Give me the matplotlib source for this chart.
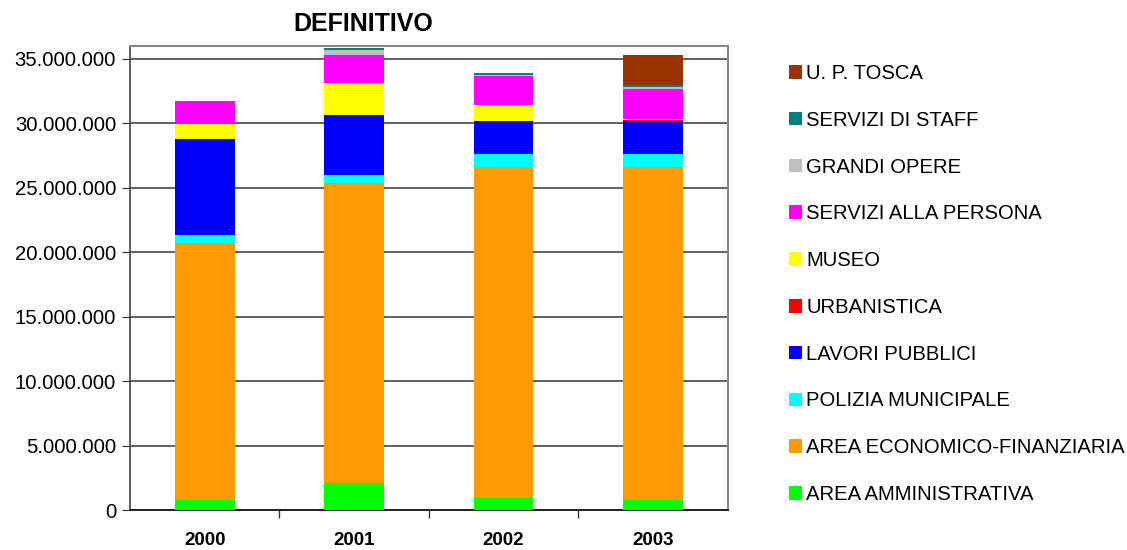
import numpy as np
import matplotlib
matplotlib.use('Agg')
import matplotlib.pyplot as plt
from matplotlib.patches import Patch
from matplotlib.ticker import FuncFormatter

plt.rcParams['font.family'] = ['Liberation Sans', 'DejaVu Sans']

years = ['2000', '2001', '2002', '2003']

# values in millions of euro, bottom to top
area_amministrativa = [0.78, 2.07, 0.95, 0.78]
area_economico = [19.94, 23.25, 25.61, 25.84]
polizia_municipale = [0.62, 0.68, 1.06, 1.01]
lavori_pubblici = [7.45, 4.66, 2.56, 2.56]
urbanistica = [0.0, 0.0, 0.0, 0.08]
museo = [1.16, 2.48, 1.24, 0.08]
servizi_persona = [1.78, 2.17, 2.25, 2.27]
grandi_opere = [0.0, 0.39, 0.02, 0.155]
servizi_staff = [0.0, 0.16, 0.155, 0.155]
up_tosca = [0.0, 0.0, 0.0, 2.38]

series = [
  ('AREA AMMINISTRATIVA', area_amministrativa, '#00FF00'),
  ('AREA ECONOMICO-FINANZIARIA', area_economico, '#FF9900'),
  ('POLIZIA MUNICIPALE', polizia_municipale, '#00FFFF'),
  ('LAVORI PUBBLICI', lavori_pubblici, '#0000FF'),
  ('URBANISTICA', urbanistica, '#FF0000'),
  ('MUSEO', museo, '#FFFF00'),
  ('SERVIZI ALLA PERSONA', servizi_persona, '#FF00FF'),
  ('GRANDI OPERE', grandi_opere, '#C0C0C0'),
  ('SERVIZI DI STAFF', servizi_staff, '#008080'),
  ('U. P. TOSCA', up_tosca, '#993300'),
]

fig = plt.figure(figsize=(11.27, 5.5), dpi=100)
ax = fig.add_axes([130/1127, 40/550, (727.6-130)/1127, (510-45.7)/550])

x = np.arange(len(years))
bottom = np.zeros(len(years))
for name, vals, col in series:
  v = np.array(vals) * 1e6
  ax.bar(x, v, 0.4, bottom=bottom, color=col, linewidth=0, zorder=3)
  bottom += v

ax.set_xlim(-0.5, 3.5)
ax.set_ylim(0, 36e6)
ax.set_yticks(np.arange(0, 35e6 + 1, 5e6))
ax.yaxis.set_major_formatter(FuncFormatter(lambda v, p: f'{int(v):,}'.replace(',', '.')))
ax.yaxis.grid(True, color='#555555', linewidth=1.3, zorder=0)
ax.set_xticks(x)
ax.set_xticklabels(years, fontweight='bold', fontsize=13.5)
ax.set_xticks(np.arange(0.5, 3.5, 1), minor=True)
ax.tick_params(axis='x', which='major', length=0, pad=16)
ax.tick_params(axis='x', which='minor', length=6, width=1, color='#333333')
ax.tick_params(axis='y', length=6, labelsize=14.6, color='#333333', pad=4)
for s in ['top', 'right']:
  ax.spines[s].set_color('#888888')
  ax.spines[s].set_linewidth(1.5)
ax.spines['left'].set_color('#444444')
ax.spines['bottom'].set_color('#222222')
ax.spines['left'].set_linewidth(1.2)
ax.spines['bottom'].set_linewidth(1.4)

fig.text(363/1127, 1 - 24/550, 'DEFINITIVO', ha='center', va='center', fontsize=18, fontweight='bold')

handles = [Patch(facecolor=col, edgecolor='none', label=name) for name, _, col in series][::-1]
fig.legend(handles=handles, loc='upper left', bbox_to_anchor=(789/1127, 1 - 64/550), frameon=False,
           fontsize=14.6, handlelength=0.65, handleheight=0.65, handletextpad=0.2, labelspacing=1.37,
           borderaxespad=0, borderpad=0)

fig.savefig('out.png', dpi=100)
